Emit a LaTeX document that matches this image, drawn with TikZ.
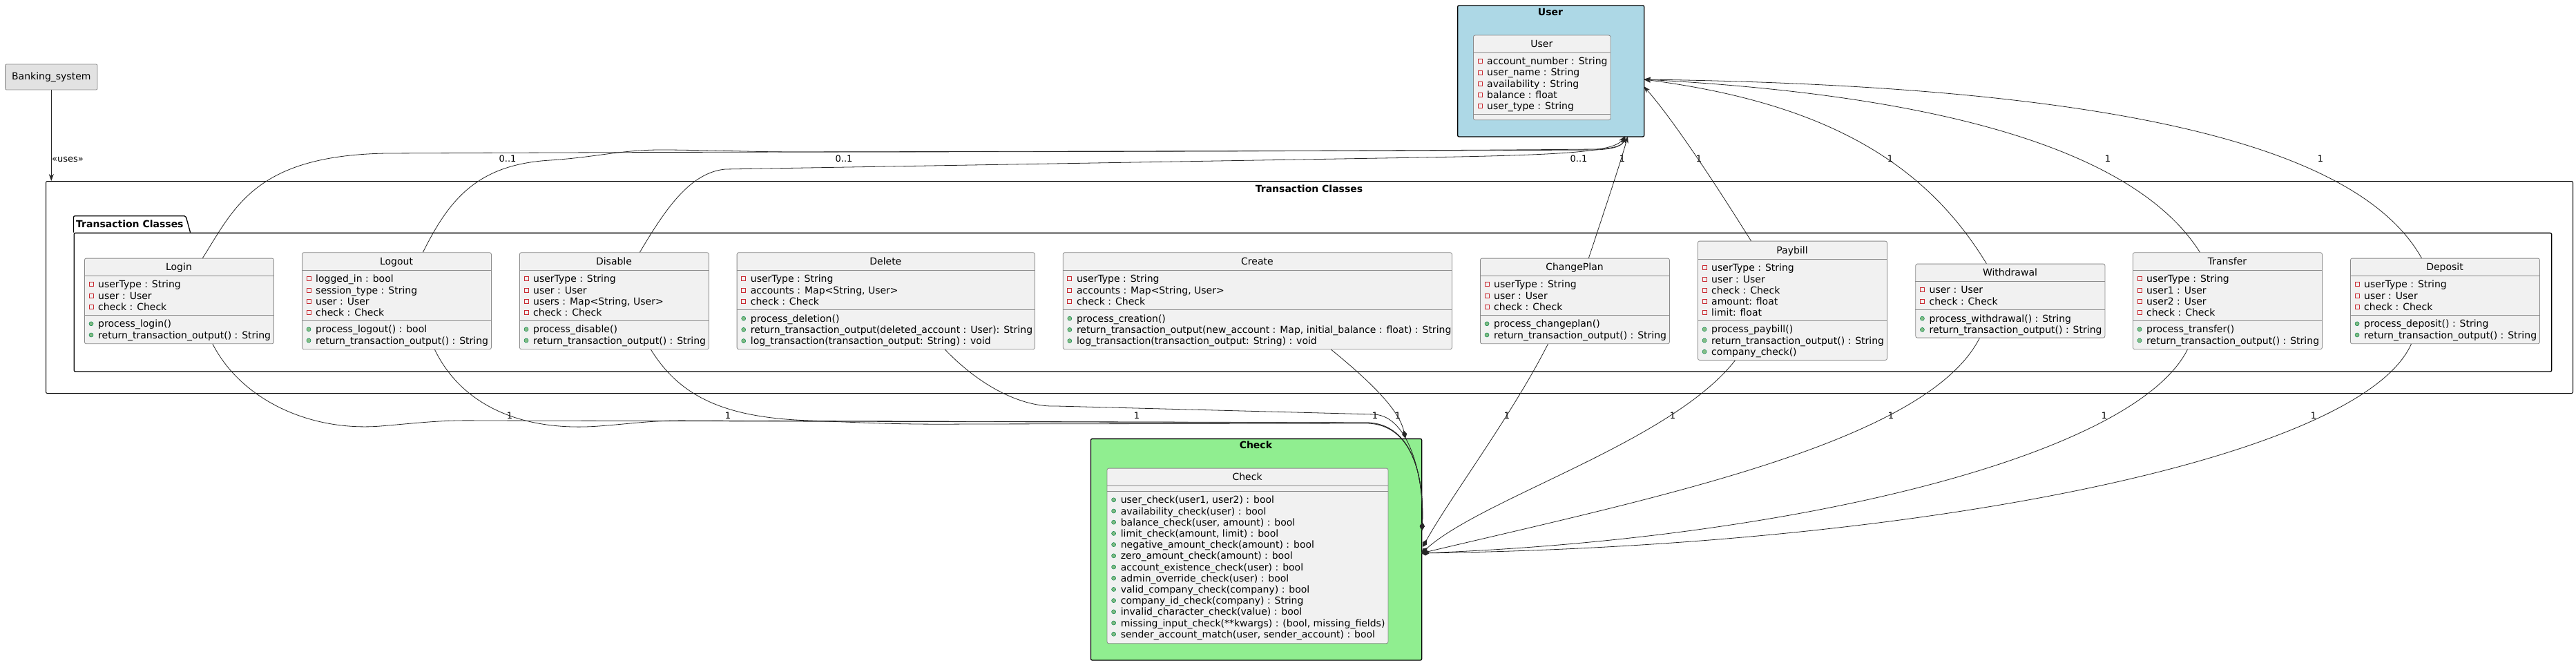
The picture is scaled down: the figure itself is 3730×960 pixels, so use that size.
\documentclass[tikz,border=0pt]{standalone}
\usepackage{fontspec}
\setmainfont{DejaVu Sans}
\usetikzlibrary{arrows.meta,calc}
\definecolor{clsfill}{HTML}{F1F1F1}
\definecolor{clsborder}{HTML}{8A8A8A}
\definecolor{privred}{HTML}{C82930}
\definecolor{pubfill}{HTML}{84BE84}
\definecolor{publine}{HTML}{038048}
\definecolor{userblue}{HTML}{ADD8E6}
\definecolor{checkgreen}{HTML}{90EE90}
\definecolor{bankfill}{HTML}{E2E2E2}
\newcounter{mc}
\tikzset{
  cls/.style={draw=clsborder, fill=clsfill, rounded corners=2.5pt, line width=0.8pt, inner sep=0pt},
  sepline/.style={draw=clsborder, line width=0.8pt},
  clstitle/.style={anchor=base, font=\fontsize{14}{16}\selectfont, inner sep=0pt},
  mtext/.style={anchor=base west, font=\fontsize{14}{16}\selectfont, inner sep=0pt},
  privicon/.style={draw=privred, line width=0.7pt},
  pubicon/.style={draw=publine, fill=pubfill, line width=0.5pt},
  pkgtitle/.style={font=\bfseries\fontsize{14}{16}\selectfont, inner sep=0pt, anchor=base},
  pkgbox/.style={draw=black, line width=1.3pt, rounded corners=2pt, inner sep=0pt, anchor=north west},
  lbl/.style={font=\fontsize{13}{15}\selectfont, inner sep=0pt},
  conn/.style={draw=black!85, line width=0.8pt},
  touser/.style={conn, -{Stealth[length=10pt,width=7pt,inset=3pt]}},
  tocheck/.style={conn, -{Diamond[length=12pt,width=7pt]}},
}
\newcommand{\umlcls}[8]{%
  \node[cls, anchor=north west, minimum width={#4-#2}, minimum height={#5-#3}] (#1) at (#2,#3) {};
  \draw[sepline] (#2,#6) -- (#4,#6);
  \draw[sepline] (#2,#7) -- (#4,#7);
  \node[clstitle] (#1-title) at ({(#2+#4)/2},{(#3+#6)/2+5}) {#8};
}
\newcommand{\attr}[3]{\stepcounter{mc}%
  \draw[privicon] ({#1+7},{#2-3}) rectangle ({#1+13},{#2+3});
  \node[mtext] (m\arabic{mc}) at ({#1+20},{#2+5}) {#3};}
\newcommand{\meth}[3]{\stepcounter{mc}%
  \filldraw[pubicon] ({#1+10},{#2}) circle[radius=3pt];
  \node[mtext] (m\arabic{mc}) at ({#1+20},{#2+5}) {#3};}
\newcommand{\attrs}[3]{\foreach \mtxt [count=\k from 0] in {#3} {\attr{#1}{#2+16.2*\k}{\mtxt}}}
\newcommand{\meths}[3]{\foreach \mtxt [count=\k from 0] in {#3} {\meth{#1}{#2+16.2*\k}{\mtxt}}}
\begin{document}
\begin{tikzpicture}[x=1pt,y=-1pt]
\fill[white] (0,0) rectangle (3730,960);
\useasboundingbox (0,0) rectangle (3730,960);

% Banking system
\node[draw=clsborder, fill=bankfill, rounded corners=2pt, line width=0.8pt, minimum width=133.4, minimum height=37, inner sep=0pt, font=\fontsize{14}{16}\selectfont] (bank) at (74.3,111.5) {Banking\_system};

% outer rectangle
\node[draw=black, line width=1pt, rounded corners=2pt, inner sep=0pt, anchor=north west, minimum width=3659, minimum height=307] (outer) at (66,262) {};
\node[pkgtitle] (outer-title) at (1895.5,278) {Transaction Classes};

% inner package
\draw[black, line width=1.3pt, rounded corners=2pt] (106.5,336.7) -- (106.5,312.7) -- (269,312.7) -- (275.6,336.7);
\node[pkgbox, minimum width=3587.5, minimum height=200.6] (pkg) at (106.5,336.7) {};
\node[pkgtitle, anchor=base west] (pkg-title) at (110,329) {Transaction Classes};

% User package
\node[pkgbox, fill=userblue, minimum width=270, minimum height=190] (userpkg) at (2110,7.3) {};
\node[pkgtitle] (userpkg-title) at (2245,22.3) {User};
% Check package
\node[pkgbox, fill=checkgreen, minimum width=479.2, minimum height=320.6] (checkpkg) at (1578.8,634.7) {};
\node[pkgtitle] (checkpkg-title) at (1818.4,649) {Check};

% classes
\umlcls{user}{2133}{50.7}{2331.6}{173.3}{76.3}{165.3}{User}
\attrs{2133}{88.8}{account\_number : String, user\_name : String, availability : String, balance : float, user\_type : String}

\umlcls{check}{1602.6}{677.7}{2009.5}{931.3}{703.3}{711.3}{Check}
\meths{1602.6}{723.8}{{user\_check(user1, user2) : bool}, availability\_check(user) : bool, {balance\_check(user, amount) : bool}, {limit\_check(amount, limit) : bool}, negative\_amount\_check(amount) : bool, zero\_amount\_check(amount) : bool, account\_existence\_check(user) : bool, admin\_override\_check(user) : bool, valid\_company\_check(company) : bool, company\_id\_check(company) : String, invalid\_character\_check(value) : bool, {missing\_input\_check(**kwargs) : (bool, missing\_fields)}, {sender\_account\_match(user, sender\_account) : bool}}

\umlcls{login}{122}{373.7}{396}{497.3}{399.3}{456.3}{Login}
\attrs{122}{411.8}{userType : String, user : User, check : Check}
\meths{122}{468.8}{process\_login(), return\_transaction\_output() : String}

\umlcls{logout}{437}{365.3}{711}{505.3}{391.3}{464.3}{Logout}
\attrs{437}{403.8}{logged\_in : bool, session\_type : String, user : User, check : Check}
\meths{437}{476.8}{process\_logout() : bool, return\_transaction\_output() : String}

\umlcls{disable}{752}{365.3}{1026}{505.3}{391.3}{464.3}{Disable}
\attrs{752}{403.8}{userType : String, user : User, {users : Map<String, User>}, check : Check}
\meths{752}{476.8}{process\_disable(), return\_transaction\_output() : String}

\umlcls{delete}{1066.7}{365.3}{1498}{505.3}{391.3}{448.7}{Delete}
\attrs{1066.7}{403.8}{userType : String, {accounts : Map<String, User>}, check : Check}
\meths{1066.7}{461.2}{process\_deletion(), return\_transaction\_output(deleted\_account : User): String, log\_transaction(transaction\_output: String) : void}

\umlcls{create}{1538.8}{365.3}{2102}{505.3}{391.3}{448.7}{Create}
\attrs{1538.8}{403.8}{userType : String, {accounts : Map<String, User>}, check : Check}
\meths{1538.8}{461.2}{process\_creation(), {return\_transaction\_output(new\_account : Map, initial\_balance : float) : String}, log\_transaction(transaction\_output: String) : void}

\umlcls{changeplan}{2143}{373.7}{2417}{497.3}{399.3}{456.3}{ChangePlan}
\attrs{2143}{411.8}{userType : String, user : User, check : Check}
\meths{2143}{468.8}{process\_changeplan(), return\_transaction\_output() : String}

\umlcls{paybill}{2458}{348.7}{2732}{521}{375.3}{464.3}{Paybill}
\attrs{2458}{387.8}{userType : String, user : User, check : Check, amount: float, limit: float}
\meths{2458}{476.8}{process\_paybill(), return\_transaction\_output() : String, company\_check()}

\umlcls{withdrawal}{2773.4}{381.7}{3047.5}{488.7}{407.3}{448.7}{Withdrawal}
\attrs{2773.4}{419.8}{user : User, check : Check}
\meths{2773.4}{461.2}{process\_withdrawal() : String, return\_transaction\_output() : String}

\umlcls{transfer}{3088}{365.3}{3362}{505.3}{391.3}{464.3}{Transfer}
\attrs{3088}{403.8}{userType : String, user1 : User, user2 : User, check : Check}
\meths{3088}{476.8}{process\_transfer(), return\_transaction\_output() : String}

\umlcls{deposit}{3403}{373.7}{3677}{497.3}{399.3}{456.3}{Deposit}
\attrs{3403}{411.8}{userType : String, user : User, check : Check}
\meths{3403}{468.8}{process\_deposit() : String, return\_transaction\_output() : String}

% attachment points
\coordinate (uBa) at (2353,197.3);
\coordinate (uBb) at (2357,197.3);
\coordinate (uR1) at (2380,115);
\coordinate (uR2) at (2380,125);
\coordinate (cT) at (2035,634.7);
\coordinate (cR1) at (2059,768);
\coordinate (cR2) at (2060,792);
\coordinate (cR3) at (2058,801);

% uses
\draw[conn, -{Stealth[length=10pt,width=7pt,inset=3pt]}] (bank.south) -- (bank.south |- outer.north);
\node[lbl, anchor=west] (uses) at (75,231) {«uses»};

% to User
\draw[touser] ([xshift=34pt]login.north) .. controls (340,300) and (370,225) .. (560,222) .. controls (1200,219) and (2000,219) .. (2310,217) .. controls (2340,216) and (2350,210) .. (uBa);
\draw[touser] ([xshift=38pt]logout.north) .. controls (650,290) and (690,238) .. (797,232) .. controls (870,227) and (900,216) .. (969,217) .. controls (1050,218) and (1100,220) .. (1153,220) .. controls (1600,220) and (2100,218) .. (2310,216) .. controls (2340,215) and (2350,210) .. (uBa);
\draw[touser] ([xshift=37pt]disable.north) .. controls (965,300) and (1000,250) .. (1050,245) -- (2000,229) .. controls (2250,225) and (2335,222) .. (uBa);
\draw[touser] ([xshift=20pt]changeplan.north) .. controls (2328,290) and (2345,240) .. (uBb);
\draw[touser] ([xshift=-60pt]paybill.north) .. controls (2480,260) and (2420,170) .. (uR2);
\draw[touser] ([xshift=-34.5pt]withdrawal.north) .. controls (2790,240) and (2650,150) .. (uR1);
\draw[touser] ([xshift=-40pt]transfer.north) .. controls (3100,230) and (2850,140) .. (uR1);
\draw[touser] ([xshift=-34pt]deposit.north) .. controls (3420,220) and (3100,125) .. (uR1);

% to Check
\draw[tocheck] ([xshift=48.5pt]login.south) .. controls (350,580) and (450,625) .. (551,617) .. controls (610,612) and (640,608) .. (694,609) -- (1980,612) .. controls (2045,614) and (2062,690) .. (cR1);
\draw[tocheck] ([xshift=55pt]logout.south) .. controls (670,590) and (760,625) .. (867,617) .. controls (920,613) and (950,608) .. (1000,609) -- (1980,612) .. controls (2045,614) and (2062,690) .. (cR1);
\draw[tocheck] ([xshift=53pt]disable.south) .. controls (985,575) and (1050,605) .. (1173,609) .. controls (1250,612) and (1300,615) .. (1400,614) -- (1980,613) .. controls (2045,615) and (2062,690) .. (cR1);
\draw[tocheck] ([xshift=85.6pt]delete.south) .. controls (1420,560) and (1480,590) .. (1530,588) -- (1990,600) .. controls (2040,603) and (2062,690) .. (cR1);
\draw[tocheck] ([xshift=106.6pt]create.south) .. controls (1975,545) and (2025,590) .. (cT);
\draw[tocheck] ([xshift=-39pt]changeplan.south) .. controls (2190,600) and (2100,720) .. (cR2);
\draw[tocheck] ([xshift=-83pt]paybill.south) .. controls (2420,640) and (2150,720) .. (cR3);
\draw[tocheck] ([xshift=-44.5pt]withdrawal.south) .. controls (2790,640) and (2400,720) .. (cR3);
\draw[tocheck] ([xshift=-58pt]transfer.south) .. controls (3090,660) and (2600,780) .. (cR3);
\draw[tocheck] ([xshift=-49pt]deposit.south) .. controls (3420,660) and (2800,790) .. (cR3);

% labels top
\node[lbl] (lt1) at (735,230) {0..1};
\node[lbl] (lt2) at (1222,230) {0..1};
\node[lbl] (lt3) at (2286,230) {0..1};
\node[lbl] (lt4) at (2349,230) {1};
\node[lbl] (lt5) at (2460,230) {1};
\node[lbl] (lt6) at (2737,230) {1};
\node[lbl] (lt7) at (3052,230) {1};
\node[lbl] (lt8) at (3360,230) {1};
% labels bottom
\foreach \lx [count=\li] in {738,1054,1646,1991,2024,2182,2422,2738,3047,3350} {
  \node[lbl] (lb\li) at (\lx,602) {1};
}
\end{tikzpicture}
\end{document}
